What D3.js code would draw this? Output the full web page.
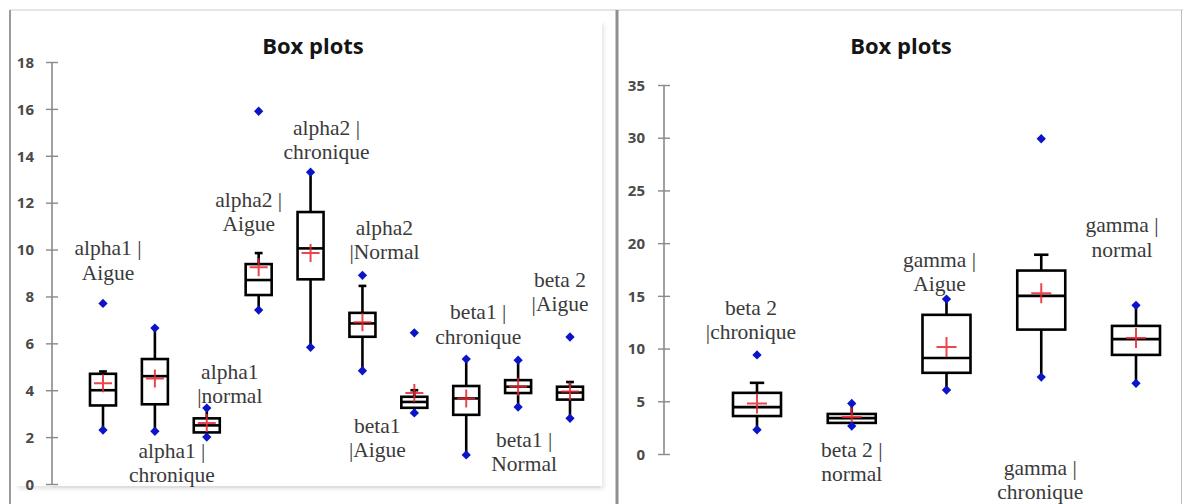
<!DOCTYPE html>
<html>
<head>
<meta charset="utf-8">
<script src="https://cdn.jsdelivr.net/npm/d3@7"></script>
<style>
  html, body { margin: 0; padding: 0; background: #fff; }
  svg { display: block; }
</style>
</head>
<body>
<svg id="chart" width="1185" height="504"></svg>
<script>
// ---- Left chart: alpha1 / alpha2 / beta1 / beta2 (Aigue) ----
const leftCategories = [
  "alpha1 | Aigue", "alpha1 | chronique", "alpha1 |normal",
  "alpha2 | Aigue", "alpha2 | chronique", "alpha2 |Normal",
  "beta1 |Aigue", "beta1 | chronique", "beta1 | Normal", "beta 2 |Aigue"
];
const leftLabelLines = [
  ["alpha1 |", "Aigue"], ["alpha1 |", "chronique"], ["alpha1", "|normal"],
  ["alpha2 |", "Aigue"], ["alpha2 |", "chronique"], ["alpha2", "|Normal"],
  ["beta1", "|Aigue"], ["beta1 |", "chronique"], ["beta1 |", "Normal"], ["beta 2", "|Aigue"]
];
const leftMin          = [2.30, 2.25, 2.00, 7.42, 5.83, 4.83, 3.03, 1.24, 3.28, 2.80];
const leftWhiskerLow   = [2.30, 2.25, 2.00, 7.42, 5.83, 4.83, 3.03, 1.24, 3.28, 2.80];
const leftQ1           = [3.35, 3.40, 2.20, 8.06, 8.73, 6.28, 3.25, 2.95, 3.88, 3.60];
const leftMedian       = [4.00, 4.60, 2.50, 8.70, 10.05, 6.85, 3.50, 3.65, 4.15, 3.90];
const leftQ3           = [4.70, 5.33, 2.80, 9.38, 11.60, 7.30, 3.72, 4.18, 4.43, 4.15];
const leftWhiskerHigh  = [4.80, 6.65, 3.24, 9.85, 13.30, 8.45, 4.00, 5.33, 5.28, 4.35];
const leftMax          = [7.70, 6.65, 3.24, 15.90, 13.30, 8.90, 6.45, 5.33, 5.28, 6.27];
const leftMean         = [4.30, 4.50, 2.60, 9.25, 9.85, 6.90, 3.88, 3.65, 4.15, 3.95];
const leftTicks        = [0, 2, 4, 6, 8, 10, 12, 14, 16, 18];

// ---- Right chart: beta2 / gamma ----
const rightCategories = [
  "beta 2 |chronique", "beta 2 | normal", "gamma | Aigue", "gamma | chronique", "gamma | normal"
];
const rightLabelLines = [
  ["beta 2", "|chronique"], ["beta 2 |", "normal"], ["gamma |", "Aigue"],
  ["gamma |", "chronique"], ["gamma |", "normal"]
];
const rightMin         = [2.30, 2.65, 6.07, 7.30, 6.70];
const rightWhiskerLow  = [2.30, 2.65, 6.07, 7.30, 6.70];
const rightQ1          = [3.60, 2.95, 7.70, 11.80, 9.40];
const rightMedian      = [4.45, 3.40, 9.10, 15.00, 10.90];
const rightQ3          = [5.80, 3.80, 13.20, 17.40, 12.15];
const rightWhiskerHigh = [6.75, 4.80, 14.70, 18.90, 14.10];
const rightMax         = [9.40, 4.80, 14.70, 29.90, 14.10];
const rightMean        = [4.80, 3.50, 10.15, 15.25, 11.00];
const rightTicks       = [0, 5, 10, 15, 20, 25, 30, 35];

// Label placement (horizontal offset in px, vertical anchor in data units)
const leftLabelPlacement = [
  [5, 10.06], [17, 1.41], [23, 4.78], [-10, 12.11], [16, 15.18],
  [22, 10.92], [-37, 2.47], [12, 7.33], [6, 1.88], [-10, 8.70]
];
const rightLabelPlacement = [
  [-6, 13.85], [0, 0.38], [-7, 18.4], [-1, -1.33], [-14, 21.7]
];

const svg = d3.select("#chart");

// Page frame
svg.append("rect").attr("width", 1185).attr("height", 504).attr("fill", "#fff");

const defs = svg.append("defs");
const shadow = defs.append("filter").attr("id", "soft").attr("x", "-5%").attr("y", "-5%")
  .attr("width", "110%").attr("height", "110%");
shadow.append("feGaussianBlur").attr("stdDeviation", 2);

// left panel plot area with a soft shadow along its right and bottom edges
svg.append("rect").attr("x", 18).attr("y", 24).attr("width", 586).attr("height", 465)
  .attr("fill", "#e4e4e4").attr("filter", "url(#soft)");
svg.append("rect").attr("x", 12).attr("y", 12).attr("width", 590).attr("height", 474)
  .attr("fill", "#fff");
svg.append("line").attr("x1", 52).attr("x2", 600).attr("y1", 487).attr("y2", 487)
  .attr("stroke", "#d6d6d6").attr("stroke-width", 1.2);

svg.append("line").attr("x1", 10).attr("x2", 1183).attr("y1", 10).attr("y2", 10)
  .attr("stroke", "#dcdcdc").attr("stroke-width", 1.5);
svg.append("line").attr("x1", 10).attr("x2", 10).attr("y1", 10).attr("y2", 504)
  .attr("stroke", "#9a9a9a").attr("stroke-width", 2);
svg.append("line").attr("x1", 617).attr("x2", 617).attr("y1", 10).attr("y2", 504)
  .attr("stroke", "#8f8f8f").attr("stroke-width", 3);
svg.append("line").attr("x1", 1181.5).attr("x2", 1181.5).attr("y1", 10).attr("y2", 504)
  .attr("stroke", "#bdbdbd").attr("stroke-width", 1);

function drawPanel(opt) {
  const g = svg.append("g");
  const y = d3.scaleLinear().domain(opt.domain).range(opt.yRange);
  const x = d3.scalePoint().domain(opt.categories).range(opt.xRange);

  // title
  g.append("text")
    .attr("x", opt.titleX).attr("y", 54)
    .attr("text-anchor", "middle")
    .attr("font-family", "'Open Sans', 'Liberation Sans', sans-serif")
    .attr("font-weight", 700).attr("font-size", 22)
    .attr("fill", "#151515")
    .text("Box plots");

  // y axis with cross ticks
  const axis = d3.axisLeft(y).tickValues(opt.ticks).tickSize(0).tickPadding(0);
  const ag = g.append("g").attr("transform", `translate(${opt.axisX},0)`).call(axis);
  ag.select(".domain").remove();
  ag.append("line").attr("x1", 0).attr("x2", 0)
    .attr("y1", y(opt.domain[0])).attr("y2", y(opt.domain[1]))
    .attr("stroke", "#8a8a8a").attr("stroke-width", 1.6);
  ag.selectAll(".tick").append("line")
    .attr("x1", -6).attr("x2", 6).attr("stroke", "#8a8a8a").attr("stroke-width", 1.4);
  ag.selectAll(".tick text")
    .attr("x", opt.labelEnd - opt.axisX)
    .attr("dy", "0.35em")
    .attr("text-anchor", "end")
    .attr("font-family", "'Open Sans', 'Liberation Sans', sans-serif")
    .attr("font-weight", 700)
    .attr("font-size", 15)
    .attr("fill", "#4a4a4a");

  const bw = opt.boxWidth;
  const rows = opt.categories.map((c, i) => ({
    c, i,
    min: opt.min[i], wlo: opt.wlo[i], q1: opt.q1[i], med: opt.med[i],
    q3: opt.q3[i], whi: opt.whi[i], max: opt.max[i], mean: opt.mean[i]
  }));

  const bx = g.selectAll("g.box").data(rows).join("g").attr("class", "box")
    .attr("transform", d => `translate(${x(d.c)},0)`);

  // whiskers
  bx.append("line").attr("x1", 0).attr("x2", 0)
    .attr("y1", d => y(d.q3)).attr("y2", d => y(d.whi))
    .attr("stroke", "#000").attr("stroke-width", 2.6);
  bx.append("line").attr("x1", 0).attr("x2", 0)
    .attr("y1", d => y(d.q1)).attr("y2", d => y(d.wlo))
    .attr("stroke", "#000").attr("stroke-width", 2.6);
  // caps where an outlier lies beyond the whisker
  bx.filter(d => d.whi !== d.max).append("line")
    .attr("x1", -bw * 0.15).attr("x2", bw * 0.15)
    .attr("y1", d => y(d.whi)).attr("y2", d => y(d.whi))
    .attr("stroke", "#000").attr("stroke-width", 2.6);
  bx.filter(d => d.wlo !== d.min).append("line")
    .attr("x1", -bw * 0.15).attr("x2", bw * 0.15)
    .attr("y1", d => y(d.wlo)).attr("y2", d => y(d.wlo))
    .attr("stroke", "#000").attr("stroke-width", 2.6);

  // box
  bx.append("rect")
    .attr("x", -bw / 2).attr("width", bw)
    .attr("y", d => y(d.q3)).attr("height", d => y(d.q1) - y(d.q3))
    .attr("fill", "#fff").attr("stroke", "#000").attr("stroke-width", 2.6);
  // median
  bx.append("line").attr("x1", -bw / 2).attr("x2", bw / 2)
    .attr("y1", d => y(d.med)).attr("y2", d => y(d.med))
    .attr("stroke", "#000").attr("stroke-width", 2.6);

  // mean marker
  const cs = opt.crossSize;
  bx.append("path")
    .attr("d", d => `M${-cs},${y(d.mean)}H${cs}M0,${y(d.mean) - cs}V${y(d.mean) + cs}`)
    .attr("stroke", "#e8262e").attr("stroke-width", 2).attr("stroke-opacity", 0.85)
    .attr("fill", "none");

  // min / max markers
  const diamond = d3.symbol().type(d3.symbolDiamond2).size(opt.dotArea);
  ["min", "max"].forEach(k => {
    bx.append("path")
      .attr("transform", d => `translate(0,${y(d[k])})`)
      .attr("d", diamond())
      .attr("fill", "#0c14c8");
  });

  // category labels
  const lg = g.selectAll("text.cat").data(rows).join("text").attr("class", "cat")
    .attr("text-anchor", "middle")
    .attr("font-family", "'Liberation Serif', 'DejaVu Serif', serif")
    .attr("font-size", 21.5)
    .attr("fill", "#3a3a3a")
    .attr("transform", d => `translate(${x(d.c) + opt.place[d.i][0]},${y(opt.place[d.i][1])})`);
  lg.each(function(d) {
    const t = d3.select(this);
    opt.lines[d.i].forEach((ln, j) => {
      t.append("tspan").attr("x", 0).attr("y", j * 24.5).attr("dy", "0.32em").text(ln);
    });
  });
}

drawPanel({
  categories: leftCategories, lines: leftLabelLines, place: leftLabelPlacement,
  min: leftMin, wlo: leftWhiskerLow, q1: leftQ1, med: leftMedian, q3: leftQ3,
  whi: leftWhiskerHigh, max: leftMax, mean: leftMean, ticks: leftTicks,
  domain: [0, 18], yRange: [484, 62], xRange: [103, 570],
  axisX: 52, labelEnd: 34, titleX: 313, boxWidth: 26, crossSize: 9, dotArea: 55
});

drawPanel({
  categories: rightCategories, lines: rightLabelLines, place: rightLabelPlacement,
  min: rightMin, wlo: rightWhiskerLow, q1: rightQ1, med: rightMedian, q3: rightQ3,
  whi: rightWhiskerHigh, max: rightMax, mean: rightMean, ticks: rightTicks,
  domain: [0, 35], yRange: [454, 85], xRange: [757, 1136],
  axisX: 664, labelEnd: 645, titleX: 901, boxWidth: 48, crossSize: 10, dotArea: 55
});
</script>
</body>
</html>
